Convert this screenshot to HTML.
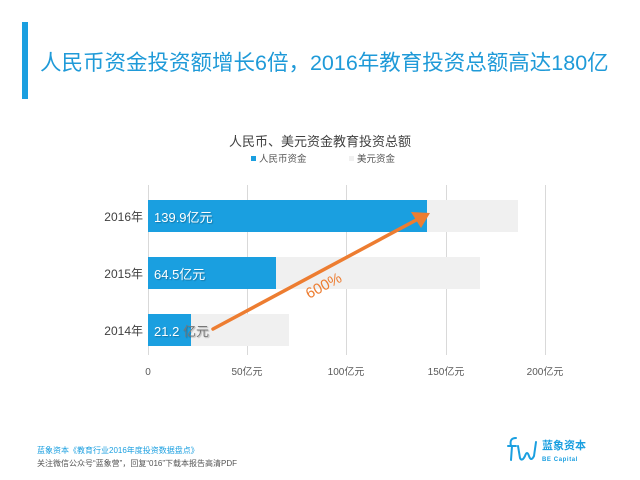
<!DOCTYPE html>
<html><head><meta charset="utf-8"><style>
html,body{margin:0;padding:0;background:#fff;}
body{width:640px;height:480px;overflow:hidden;position:relative;font-family:"Liberation Sans","Noto Sans CJK SC",sans-serif;}
</style></head><body>
<svg width="640" height="480" xmlns="http://www.w3.org/2000/svg" style="position:absolute;left:0;top:0" font-family="Liberation Sans, Noto Sans CJK SC, sans-serif">
<rect x="22" y="22" width="6" height="77" fill="#1a9fe0"/>
<text x="40" y="70" font-size="21.5" fill="#1f9ad8">人民币资金投资额增长6倍，2016年教育投资总额高达180亿</text>
<text x="320" y="146" font-size="13" fill="#404040" text-anchor="middle">人民币、美元资金教育投资总额</text>
<rect x="251" y="156" width="5" height="5" fill="#1a9fe0"/>
<text x="259" y="162" font-size="9.5" fill="#555">人民币资金</text>
<rect x="349" y="156" width="5" height="5" fill="#f0f0f0"/>
<text x="357" y="162" font-size="9.5" fill="#555">美元资金</text>
<g stroke="#d9d9d9" stroke-width="1">
<line x1="148.5" y1="185" x2="148.5" y2="355"/>
<line x1="247.5" y1="185" x2="247.5" y2="355"/>
<line x1="346.5" y1="185" x2="346.5" y2="355"/>
<line x1="446.5" y1="185" x2="446.5" y2="355"/>
<line x1="545.5" y1="185" x2="545.5" y2="355"/>
</g>
<rect x="148" y="200" width="370" height="32" fill="#f0f0f0"/>
<rect x="148" y="200" width="279" height="32" fill="#1a9fe0"/>
<rect x="148" y="257" width="332" height="32" fill="#f0f0f0"/>
<rect x="148" y="257" width="128" height="32" fill="#1a9fe0"/>
<rect x="148" y="314" width="141" height="32" fill="#f0f0f0"/>
<rect x="148" y="314" width="43" height="32" fill="#1a9fe0"/>
<g font-size="13" fill="#fff" style="text-shadow:1px 1px 1px rgba(0,0,0,0.25)">
<text x="154" y="222">139.9亿元</text>
<text x="154" y="279">64.5亿元</text>
<text x="154" y="336">21.2</text><text x="183" y="336" fill="#777">亿元</text>
</g>
<g font-size="12" fill="#404040" text-anchor="end">
<text x="143" y="221">2016年</text>
<text x="143" y="278">2015年</text>
<text x="143" y="335">2014年</text>
</g>
<g font-size="10" fill="#595959" text-anchor="middle">
<text x="148" y="375">0</text>
<text x="247" y="375">50亿元</text>
<text x="346" y="375">100亿元</text>
<text x="446" y="375">150亿元</text>
<text x="545" y="375">200亿元</text>
</g>
<line x1="213" y1="329" x2="420" y2="218" stroke="#ed7d31" stroke-width="3.5" stroke-linecap="round"/>
<polygon points="430,213 411,212 421,228" fill="#ed7d31"/>
<text x="0" y="0" font-size="15" fill="#ed7d31" transform="translate(309,299) rotate(-28)">600%</text>
<text x="37" y="453" font-size="8" fill="#1a9fe0">蓝象资本《教育行业2016年度投资数据盘点》</text>
<text x="37" y="466" font-size="8" fill="#555">关注微信公众号“蓝象营”，回复“016”下载本报告高清PDF</text>
<g stroke="#1a9fe0" stroke-width="2" fill="none" stroke-linecap="round">
<path d="M511 446 Q509 438 516 438 M508 446 L516 446 M512 446 L511 460"/>
<path d="M518 446 L520 458 Q522 462 525 456 Q527 450 529 456 Q531 462 534 456 L536 442"/>
</g>
<text x="542" y="449" font-size="11" fill="#1a9fe0" font-weight="bold">蓝象资本</text>
<text x="542" y="461" font-size="6" fill="#1a9fe0" font-weight="bold" letter-spacing="0.6">BE Capital</text>
</svg>
</body></html>
